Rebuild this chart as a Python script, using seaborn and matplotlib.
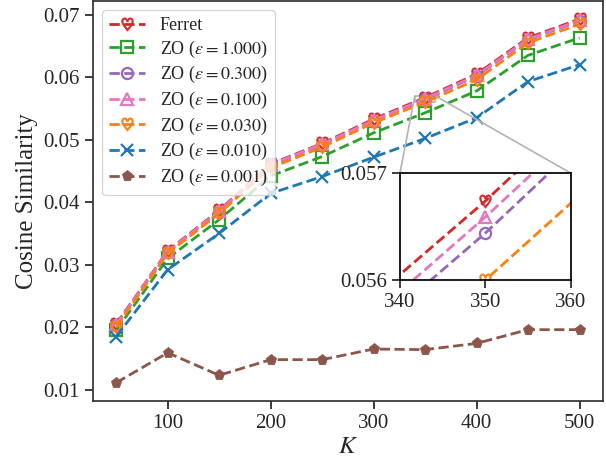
import matplotlib
matplotlib.use("Agg")
import matplotlib.pyplot as plt
import seaborn as sns
from mpl_toolkits.axes_grid1.inset_locator import mark_inset

# Values
k_values = [50, 100, 150, 200, 250, 300, 350, 400, 450, 500]

ferret = [0.0205, 0.0322, 0.0387, 0.0461, 0.0494, 0.0533, 0.05674, 0.0605, 0.0663, 0.0693]
zo_1000 = [0.0195, 0.0310, 0.0372, 0.0442, 0.0473, 0.0511, 0.0543, 0.0578, 0.0635, 0.0663]
zo_0300 = [0.0203, 0.0320, 0.0385, 0.0459, 0.0492, 0.0530, 0.05644, 0.0602, 0.0660, 0.0690]
zo_0100 = [0.0204, 0.0321, 0.0386, 0.0460, 0.0493, 0.0531, 0.05659, 0.0603, 0.0661, 0.0691]
zo_0030 = [0.0200, 0.0318, 0.0382, 0.0455, 0.0488, 0.0527, 0.05600, 0.0596, 0.0655, 0.0685]
zo_0010 = [0.0185, 0.0292, 0.0350, 0.0414, 0.0441, 0.0472, 0.0502, 0.0535, 0.0593, 0.0620]
zo_0001 = [0.0111, 0.0159, 0.0123, 0.0148, 0.0148, 0.0165, 0.0164, 0.0174, 0.0196, 0.0196]

labels = ["Ferret",
          r"ZO ($\epsilon=1.000$)", r"ZO ($\epsilon=0.300$)", r"ZO ($\epsilon=0.100$)",
          r"ZO ($\epsilon=0.030$)", r"ZO ($\epsilon=0.010$)", r"ZO ($\epsilon=0.001$)"]
series = [ferret, zo_1000, zo_0300, zo_0100, zo_0030, zo_0010, zo_0001]
colors = ["#d62728", "#2ca02c", "#9467bd", "#e377c2", "#ff7f0e", "#1f77b4", "#8c564b"]
markers = [r"$\heartsuit$", "s", "o", "^", r"$\heartsuit$", "x", "p"]
open_marker = [False, True, True, True, False, False, False]

sns.set_theme(style="ticks")
plt.rcParams["font.family"] = ["Liberation Serif", "DejaVu Serif"]
plt.rcParams["mathtext.fontset"] = "stix"


def draw_series(ax, with_labels):
    for vals, lab, col, mk, hollow in zip(series, labels, colors, markers, open_marker):
        size = 9.5 if mk.startswith("$") else 8
        sns.lineplot(
            x=k_values, y=vals, ax=ax, color=col, linestyle="--", linewidth=2,
            marker=mk, markersize=size, markeredgecolor=col,
            markerfacecolor="none" if hollow else col,
            markeredgewidth=1.6 if mk in ("s", "o", "^", "x") else 0.6,
            label=lab if with_labels else None, legend=False,
        )


fig = plt.figure(figsize=(6.06, 4.63), dpi=100)
ax = fig.add_axes([0.1535, 0.134, 0.841, 0.864])
draw_series(ax, True)
ax.set_xlabel("$K$", fontsize=18, labelpad=2)
ax.set_ylabel("Cosine Similarity", fontsize=18)
ax.tick_params(labelsize=15)
ax.set_xticks([100, 200, 300, 400, 500])
ax.set_yticks([0.01, 0.02, 0.03, 0.04, 0.05, 0.06, 0.07])
for s in ax.spines.values():
    s.set_color("#333333")
ax.legend(loc="upper left", fontsize=13, labelspacing=0.25, handlelength=2.0,
          borderaxespad=0.5)

# zoomed inset around K = 350
axins = fig.add_axes([0.660, 0.395, 0.282, 0.231])
draw_series(axins, False)
axins.set_xlim(340, 360)
axins.set_ylim(0.056, 0.057)
axins.set_xticks([340, 350, 360])
axins.set_yticks([0.056, 0.057])
axins.set_yticklabels(["0.056", "0.057"])
axins.tick_params(labelsize=15)
for s in axins.spines.values():
    s.set_color("black")
mark_inset(ax, axins, loc1=1, loc2=2, fc="none", ec="0.7", lw=1.2)

fig.savefig("out.png", dpi=100)
